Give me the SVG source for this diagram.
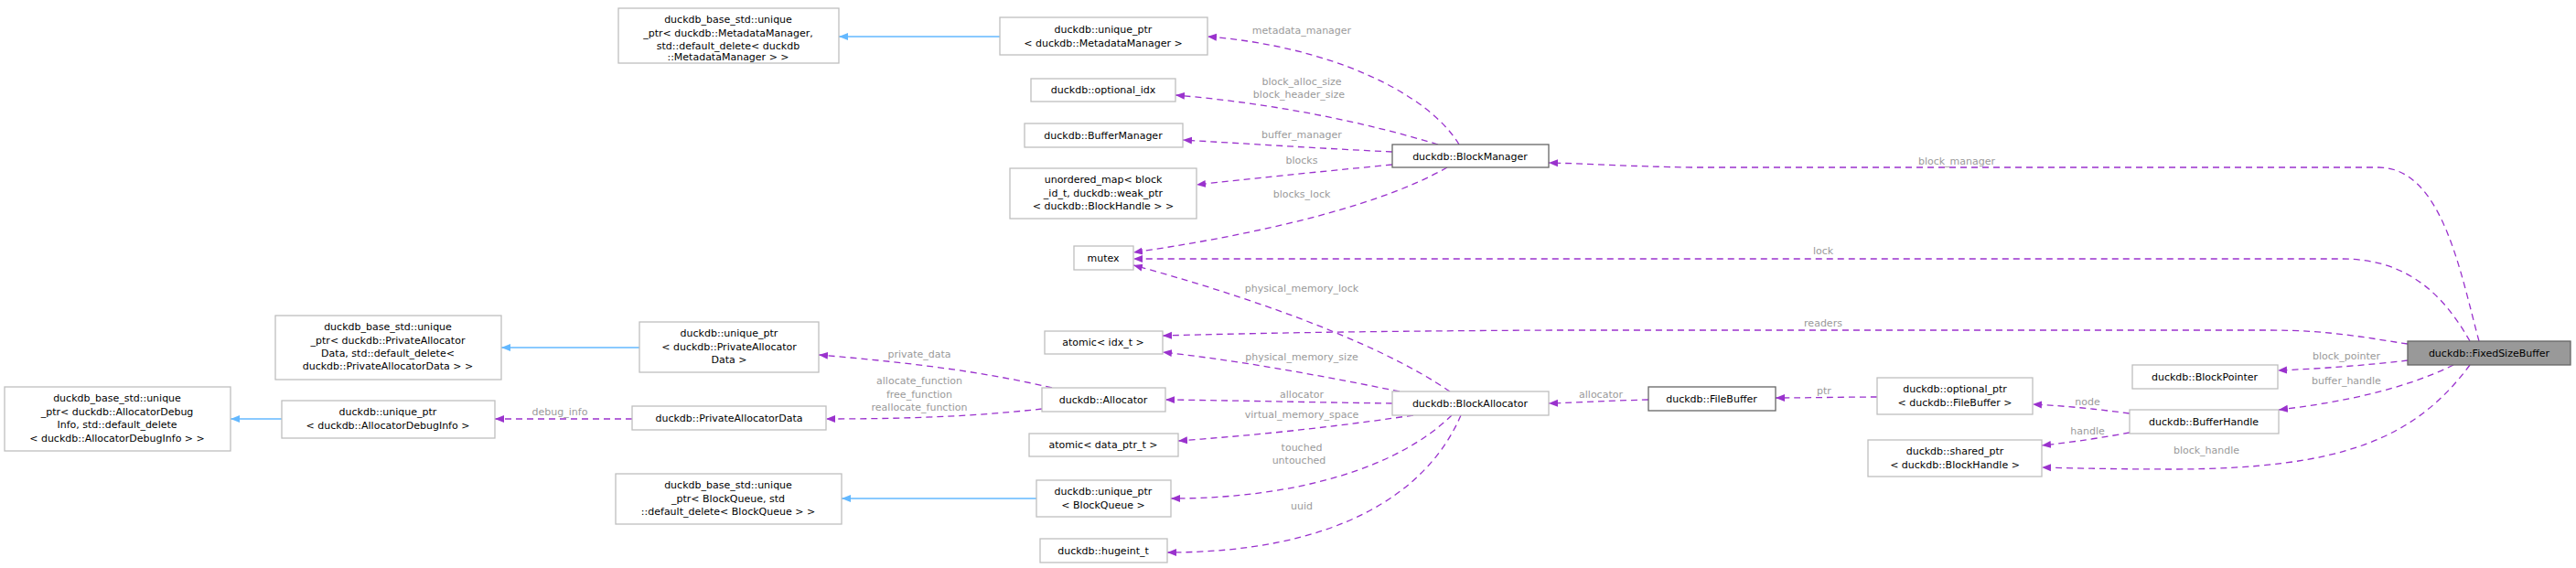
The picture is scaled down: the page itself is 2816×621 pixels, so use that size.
<svg xmlns="http://www.w3.org/2000/svg" width="2816" height="621" viewBox="0 0 2816 621">
<style>
.n rect{fill:#fff;stroke:#bfbfbf;stroke-width:1.3}
.n.d rect{stroke:#666}
.n.f rect{fill:#999;stroke:#666}
text{font-family:"DejaVu Sans",sans-serif;font-size:11px;text-anchor:middle;fill:#000}
.l{fill:#9a9a9a}
.e path{fill:none;stroke:#9a32cd;stroke-width:1.3;stroke-dasharray:7,5}
.i path{fill:none;stroke:#63b8ff;stroke-width:1.3}
</style>
<defs>
<marker id="ap" viewBox="0 0 10 10" refX="10" refY="5" markerWidth="10" markerHeight="10" markerUnits="userSpaceOnUse" orient="auto"><path d="M0,1 L10,5 L0,9 z" fill="#9a32cd"/></marker>
<marker id="ab" viewBox="0 0 10 10" refX="10" refY="5" markerWidth="10" markerHeight="10" markerUnits="userSpaceOnUse" orient="auto"><path d="M0,1 L10,5 L0,9 z" fill="#63b8ff"/></marker>
</defs>
<rect width="2816" height="621" fill="#fff"/>
<g id="edges">
<g class="i">
<path d="M1093,40 L917,40" marker-end="url(#ab)"/>
<path d="M699,380 L548,380" marker-end="url(#ab)"/>
<path d="M308,458 L252,458" marker-end="url(#ab)"/>
<path d="M1133,545 L920,545" marker-end="url(#ab)"/>
</g>
<g class="e">
<path d="M1595,158 C1560,100 1450,50 1320,40" marker-end="url(#ap)"/>
<path d="M1572,158 C1480,130 1380,112 1285,104" marker-end="url(#ap)"/>
<path d="M1522,166 C1440,162 1360,157 1293,153" marker-end="url(#ap)"/>
<path d="M1522,180 C1440,188 1360,196 1308,202" marker-end="url(#ap)"/>
<path d="M1582,183 C1500,230 1350,260 1239,276" marker-end="url(#ap)"/>
<path d="M2700,373 C2670,320 2630,283 2560,283 L1239,283" marker-end="url(#ap)"/>
<path d="M2710,373 C2690,300 2670,183 2600,183 L1850,183 C1780,182 1740,179 1693,178" marker-end="url(#ap)"/>
<path d="M2632,376 C2590,370 2550,361 2480,361 L1700,361 C1500,362 1380,364 1271,367" marker-end="url(#ap)"/>
<path d="M1585,428 C1500,370 1350,320 1239,290" marker-end="url(#ap)"/>
<path d="M1530,428 C1440,410 1360,395 1271,385" marker-end="url(#ap)"/>
<path d="M1522,441 C1440,440 1360,438 1274,437" marker-end="url(#ap)"/>
<path d="M1545,454 C1450,468 1370,476 1288,482" marker-end="url(#ap)"/>
<path d="M1587,454 C1530,510 1420,545 1280,545" marker-end="url(#ap)"/>
<path d="M1597,454 C1560,540 1460,604 1276,604" marker-end="url(#ap)"/>
<path d="M1150,424 C1070,405 980,395 895,388" marker-end="url(#ap)"/>
<path d="M1139,447 C1060,456 980,458 903,458" marker-end="url(#ap)"/>
<path d="M691,458 L541,458" marker-end="url(#ap)"/>
<path d="M1802,437 C1760,438 1730,440 1693,441" marker-end="url(#ap)"/>
<path d="M2052,434 C2010,434 1980,435 1941,435" marker-end="url(#ap)"/>
<path d="M2328,452 C2290,447 2260,444 2222,442" marker-end="url(#ap)"/>
<path d="M2328,473 C2300,478 2270,483 2232,487" marker-end="url(#ap)"/>
<path d="M2632,394 C2590,399 2540,403 2490,405" marker-end="url(#ap)"/>
<path d="M2682,399 C2630,425 2560,440 2491,448" marker-end="url(#ap)"/>
<path d="M2700,399 C2640,480 2560,512 2380,513 C2320,513 2270,512 2232,511" marker-end="url(#ap)"/>
</g>
<g class="lbl">
<text class="l" x="1423" y="37">metadata_manager</text>
<text class="l" x="1423" y="93">block_alloc_size</text>
<text class="l" x="1420" y="107">block_header_size</text>
<text class="l" x="1423" y="151">buffer_manager</text>
<text class="l" x="1423" y="179">blocks</text>
<text class="l" x="1423" y="216">blocks_lock</text>
<text class="l" x="2139" y="180">block_manager</text>
<text class="l" x="1993" y="278">lock</text>
<text class="l" x="1993" y="357">readers</text>
<text class="l" x="1423" y="319">physical_memory_lock</text>
<text class="l" x="1423" y="394">physical_memory_size</text>
<text class="l" x="1423" y="435">allocator</text>
<text class="l" x="1423" y="457">virtual_memory_space</text>
<text class="l" x="1423" y="493">touched</text>
<text class="l" x="1420" y="507">untouched</text>
<text class="l" x="1423" y="557">uuid</text>
<text class="l" x="1005" y="391">private_data</text>
<text class="l" x="1005" y="420">allocate_function</text>
<text class="l" x="1005" y="435">free_function</text>
<text class="l" x="1005" y="449">reallocate_function</text>
<text class="l" x="612" y="454">debug_info</text>
<text class="l" x="1750" y="435">allocator</text>
<text class="l" x="1994" y="431">ptr</text>
<text class="l" x="2282" y="443">node</text>
<text class="l" x="2282" y="475">handle</text>
<text class="l" x="2565" y="393">block_pointer</text>
<text class="l" x="2565" y="420">buffer_handle</text>
<text class="l" x="2412" y="496">block_handle</text>
</g>
</g>
<g id="FixedSizeBuffer" class="n f"><rect x="2632" y="373" width="178" height="26"/><text x="2721" y="390">duckdb::FixedSizeBuffer</text></g>
<g id="BlockManager" class="n d"><rect x="1522" y="158" width="171" height="25"/><text x="1607" y="175">duckdb::BlockManager</text></g>
<g id="uptrMM" class="n"><rect x="1093" y="19" width="227" height="41"/><text x="1206" y="36">duckdb::unique_ptr</text><text x="1206" y="51">&lt; duckdb::MetadataManager &gt;</text></g>
<g id="baseMM" class="n"><rect x="676" y="9" width="241" height="60"/><text x="796" y="25">duckdb_base_std::unique</text><text x="796" y="40">_ptr&lt; duckdb::MetadataManager,</text><text x="796" y="54">std::default_delete&lt; duckdb</text><text x="796" y="68" dy="-2">::MetadataManager &gt; &gt;</text></g>
<g id="optional_idx" class="n"><rect x="1127" y="86" width="158" height="25"/><text x="1206" y="102">duckdb::optional_idx</text></g>
<g id="BufferManager" class="n"><rect x="1120" y="135" width="173" height="26"/><text x="1206" y="152">duckdb::BufferManager</text></g>
<g id="unordered_map" class="n"><rect x="1104" y="184" width="204" height="55"/><text x="1206" y="200">unordered_map&lt; block</text><text x="1206" y="215">_id_t, duckdb::weak_ptr</text><text x="1206" y="229">&lt; duckdb::BlockHandle &gt; &gt;</text></g>
<g id="mutex" class="n"><rect x="1174" y="269" width="65" height="26"/><text x="1206" y="286">mutex</text></g>
<g id="atomic_idx" class="n"><rect x="1142" y="362" width="129" height="25"/><text x="1206" y="378">atomic&lt; idx_t &gt;</text></g>
<g id="Allocator" class="n"><rect x="1139" y="424" width="135" height="26"/><text x="1206" y="441">duckdb::Allocator</text></g>
<g id="atomic_dp" class="n"><rect x="1125" y="474" width="163" height="25"/><text x="1206" y="490">atomic&lt; data_ptr_t &gt;</text></g>
<g id="uptrBQ" class="n"><rect x="1133" y="525" width="147" height="40"/><text x="1206" y="541">duckdb::unique_ptr</text><text x="1206" y="556">&lt; BlockQueue &gt;</text></g>
<g id="hugeint" class="n"><rect x="1137" y="589" width="139" height="26"/><text x="1206" y="606">duckdb::hugeint_t</text></g>
<g id="BlockAllocator" class="n"><rect x="1522" y="428" width="171" height="26"/><text x="1607" y="445">duckdb::BlockAllocator</text></g>
<g id="basePAD" class="n"><rect x="301" y="345" width="247" height="70"/><text x="424" y="361">duckdb_base_std::unique</text><text x="424" y="376">_ptr&lt; duckdb::PrivateAllocator</text><text x="424" y="390">Data, std::default_delete&lt;</text><text x="424" y="404">duckdb::PrivateAllocatorData &gt; &gt;</text></g>
<g id="uptrPAD" class="n"><rect x="699" y="352" width="196" height="55"/><text x="797" y="368">duckdb::unique_ptr</text><text x="797" y="383">&lt; duckdb::PrivateAllocator</text><text x="797" y="397">Data &gt;</text></g>
<g id="baseADI" class="n"><rect x="5" y="423" width="247" height="70"/><text x="128" y="439">duckdb_base_std::unique</text><text x="128" y="454">_ptr&lt; duckdb::AllocatorDebug</text><text x="128" y="468">Info, std::default_delete</text><text x="128" y="483">&lt; duckdb::AllocatorDebugInfo &gt; &gt;</text></g>
<g id="uptrADI" class="n"><rect x="308" y="438" width="233" height="41"/><text x="424" y="454">duckdb::unique_ptr</text><text x="424" y="469">&lt; duckdb::AllocatorDebugInfo &gt;</text></g>
<g id="PrivateAllocatorData" class="n"><rect x="691" y="444" width="212" height="26"/><text x="797" y="461">duckdb::PrivateAllocatorData</text></g>
<g id="baseBQ" class="n"><rect x="673" y="518" width="247" height="55"/><text x="796" y="534">duckdb_base_std::unique</text><text x="796" y="549">_ptr&lt; BlockQueue, std</text><text x="796" y="563">::default_delete&lt; BlockQueue &gt; &gt;</text></g>
<g id="BlockPointer" class="n"><rect x="2331" y="399" width="159" height="26"/><text x="2410" y="416">duckdb::BlockPointer</text></g>
<g id="FileBuffer" class="n d"><rect x="1802" y="423" width="139" height="26"/><text x="1871" y="440">duckdb::FileBuffer</text></g>
<g id="optptrFB" class="n"><rect x="2052" y="413" width="170" height="40"/><text x="2137" y="429">duckdb::optional_ptr</text><text x="2137" y="444">&lt; duckdb::FileBuffer &gt;</text></g>
<g id="BufferHandle" class="n"><rect x="2328" y="448" width="163" height="26"/><text x="2409" y="465">duckdb::BufferHandle</text></g>
<g id="sharedBH" class="n"><rect x="2042" y="481" width="190" height="40"/><text x="2137" y="497">duckdb::shared_ptr</text><text x="2137" y="512">&lt; duckdb::BlockHandle &gt;</text></g>
</svg>
